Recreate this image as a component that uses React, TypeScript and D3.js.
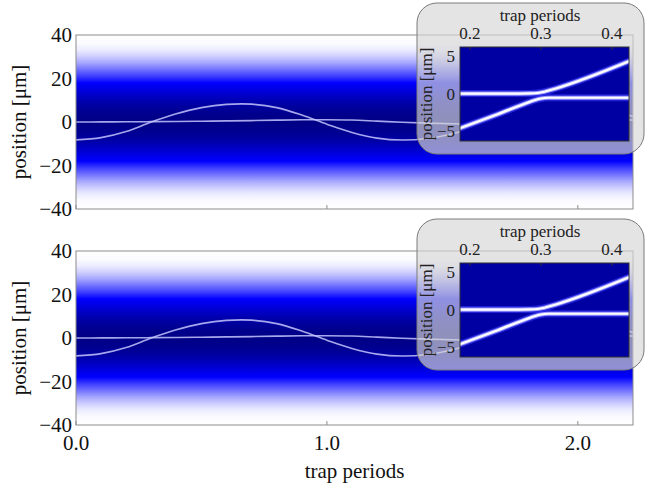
import React from 'react';
import * as d3 from 'd3';

// main panels: sampled trajectories (trap periods -> position in um)
const trapTimes = [0, 0.1, 0.2, 0.3, 0.4, 0.5, 0.6, 0.7, 0.8, 0.9, 1.0, 1.1, 1.2, 1.3, 1.4, 1.5, 1.6, 1.7, 1.8, 1.9, 2.0, 2.1, 2.2, 2.22];
const oscillating = [-8.2, -7.2, -4.4, 0.0, 3.8, 6.6, 8.1, 8.2, 6.6, 3.2, -1.0, -4.8, -7.4, -8.3, -7.6, -5.4, -2.0, 1.8, 5.4, 7.8, 8.3, 6.6, 3.2, 2.5];
const nearZero = [0.0, 0.05, 0.1, 0.15, 0.25, 0.35, 0.5, 0.65, 0.85, 1.0, 1.05, 0.9, 0.4, -0.1, -0.5, -0.8, -0.9, -0.7, -0.3, 0.2, 0.6, 0.8, 0.9, 0.9];

// density profile of the cloud (position -> relative intensity), top to bottom
const densityPos = [40, 36, 33, 30, 27, 24, 21, 18, 15, 12, 9, 6, 3, 0, -3, -6, -9, -12, -15, -18, -21, -24, -27, -30, -33, -36, -40];
const densityVal = [0, 0.01, 0.04, 0.1, 0.18, 0.28, 0.38, 0.5, 0.62, 0.74, 0.85, 0.93, 0.98, 1, 0.98, 0.93, 0.85, 0.74, 0.62, 0.5, 0.38, 0.28, 0.18, 0.1, 0.04, 0.01, 0];

const yTicks = [40, 20, 0, -20, -40];
const xTicks = [0, 1, 2];
const xTickLabels = ['0.0', '1.0', '2.0'];

// inset: avoided crossing
const upperT = [0.186, 0.24, 0.27, 0.285, 0.295, 0.305, 0.32, 0.424];
const upperV = [0.0, 0.0, 0.0, 0.02, 0.08, 0.25, 0.65, 4.3];
const lowerT = [0.186, 0.24, 0.28, 0.292, 0.3, 0.31, 0.33, 0.424];
const lowerV = [-4.6, -2.7, -1.25, -0.85, -0.65, -0.55, -0.55, -0.55];
const insetXTicks = [0.2, 0.3, 0.4];
const insetYTicks = [5, 0, -5];

const W = 646;
const H = 489;
const FONT = '"Liberation Serif", "DejaVu Serif", serif';
const panelTops = [35, 251];
const panelH = 174;
const left = 76;
const right = 633;

const fmtMinus = (v: number) => (v < 0 ? '\u2212' + Math.abs(v) : String(v));

const x = d3.scaleLinear().domain([0, 2.22]).range([left, right]);
const color = d3.scaleLinear<string>().domain([0, 0.5, 1]).range(['#ffffff', '#0000ff', '#000086']);
const gradOffset = d3.scaleLinear().domain([40, -40]).range([0, 1]);

function Inset({ top }: { top: number }) {
  const ix = d3.scaleLinear().domain([0.186, 0.424]).range([460, 629]);
  const iy = d3.scaleLinear().domain([-6.3, 6.2]).range([top + 106, top + 12]);
  const line = d3.line<number>().curve(d3.curveMonotoneX);
  const up = line(upperT.map((t, i) => [ix(t), iy(upperV[i])]) as any) || '';
  const lo = line(lowerT.map((t, i) => [ix(t), iy(lowerV[i])]) as any) || '';
  const clipId = `inset-clip-${top}`;
  const labelMid = (iy.range()[0] + iy.range()[1]) / 2;
  return (
    <g>
      <rect x={417} y={top - 32} width={227} height={151} rx={20} ry={20}
        fill="#d6d6d6" fillOpacity={0.67} stroke="#7a7a7a" strokeWidth={1} />
      <clipPath id={clipId}>
        <rect x={460} y={iy.range()[1]} width={169} height={iy.range()[0] - iy.range()[1]} />
      </clipPath>
      <rect x={460} y={iy.range()[1]} width={169} height={iy.range()[0] - iy.range()[1]} fill="#0000a2" />
      <g clipPath={`url(#${clipId})`} fill="none" strokeLinecap="round">
        {[up, lo].map((d, i) => (
          <g key={i}>
            <path d={d} stroke="#3a3aff" strokeWidth={7} strokeOpacity={0.55} />
            <path d={d} stroke="#9a9aff" strokeWidth={4.2} />
            <path d={d} stroke="#ffffff" strokeWidth={2.2} />
          </g>
        ))}
      </g>
      <rect x={460} y={iy.range()[1]} width={169} height={iy.range()[0] - iy.range()[1]}
        fill="none" stroke="#333" strokeWidth={1} />
      {insetXTicks.map((t) => (
        <g key={t}>
          <line x1={ix(t)} x2={ix(t)} y1={iy.range()[1]} y2={iy.range()[1] + 3} stroke="#333" />
          <text x={ix(t)} y={top + 4} textAnchor="middle" fontSize={17} fontFamily={FONT} fill="#222">{t.toFixed(1)}</text>
        </g>
      ))}
      {insetYTicks.map((v) => (
        <text key={v} x={455} y={iy(v)} dy="0.35em" textAnchor="end" fontSize={17} fontFamily={FONT} fill="#222">{fmtMinus(v)}</text>
      ))}
      <text x={540} y={top - 14} textAnchor="middle" fontSize={17} fontFamily={FONT} fill="#222">trap periods</text>
      <text transform={`translate(432,${labelMid}) rotate(-90)`} textAnchor="middle" fontSize={17} fontFamily={FONT} fill="#222">position [μm]</text>
    </g>
  );
}

function Panel({ top, showX }: { top: number; showX: boolean }) {
  const y = d3.scaleLinear().domain([-40, 40]).range([top + panelH, top]);
  const line = d3.line<number>().curve(d3.curveCatmullRom.alpha(0.5));
  const osc = line(trapTimes.map((t, i) => [x(t), y(oscillating[i])]) as any) || '';
  const flat = line(trapTimes.map((t, i) => [x(t), y(nearZero[i])]) as any) || '';
  const clipId = `main-clip-${top}`;
  return (
    <g>
      <clipPath id={clipId}>
        <rect x={left} y={top} width={right - left} height={panelH} />
      </clipPath>
      <rect x={left} y={top} width={right - left} height={panelH} fill="url(#cloud)" />
      <g clipPath={`url(#${clipId})`} fill="none" stroke="#c4c4ff" strokeWidth={1.6} strokeOpacity={0.85}>
        <path d={flat} />
        <path d={osc} />
      </g>
      <rect x={left} y={top} width={right - left} height={panelH} fill="none" stroke="#8c8c8c" strokeWidth={1} />
      {xTicks.map((t) => (
        <line key={t} x1={x(t)} x2={x(t)} y1={top + panelH} y2={top + panelH - 4} stroke="#8c8c8c" />
      ))}
      {yTicks.map((v) => (
        <text key={v} x={72} y={y(v)} dy="0.35em" textAnchor="end" fontSize={21} fontFamily={FONT} fill="#111">{fmtMinus(v)}</text>
      ))}
      <text transform={`translate(26,${top + panelH / 2}) rotate(-90)`} textAnchor="middle" fontSize={21} fontFamily={FONT} fill="#111">position [μm]</text>
      {showX && xTicks.map((t, i) => (
        <text key={t} x={x(t)} y={top + panelH + 25} textAnchor="middle" fontSize={21} fontFamily={FONT} fill="#111">{xTickLabels[i]}</text>
      ))}
      <Inset top={top} />
    </g>
  );
}

export default function App() {
  return (
    <svg width={W} height={H} viewBox={`0 0 ${W} ${H}`}
      style={{ position: 'absolute', left: 0, top: 0, background: '#fff' }}>
      <defs>
        <linearGradient id="cloud" x1="0" y1="0" x2="0" y2="1">
          {densityPos.map((p, i) => (
            <stop key={p} offset={gradOffset(p)} stopColor={color(densityVal[i])} />
          ))}
        </linearGradient>
      </defs>
      {panelTops.map((t, i) => (
        <Panel key={t} top={t} showX={i === panelTops.length - 1} />
      ))}
      <text x={(left + right) / 2} y={478} textAnchor="middle" fontSize={21} fontFamily={FONT} fill="#111">trap periods</text>
    </svg>
  );
}
